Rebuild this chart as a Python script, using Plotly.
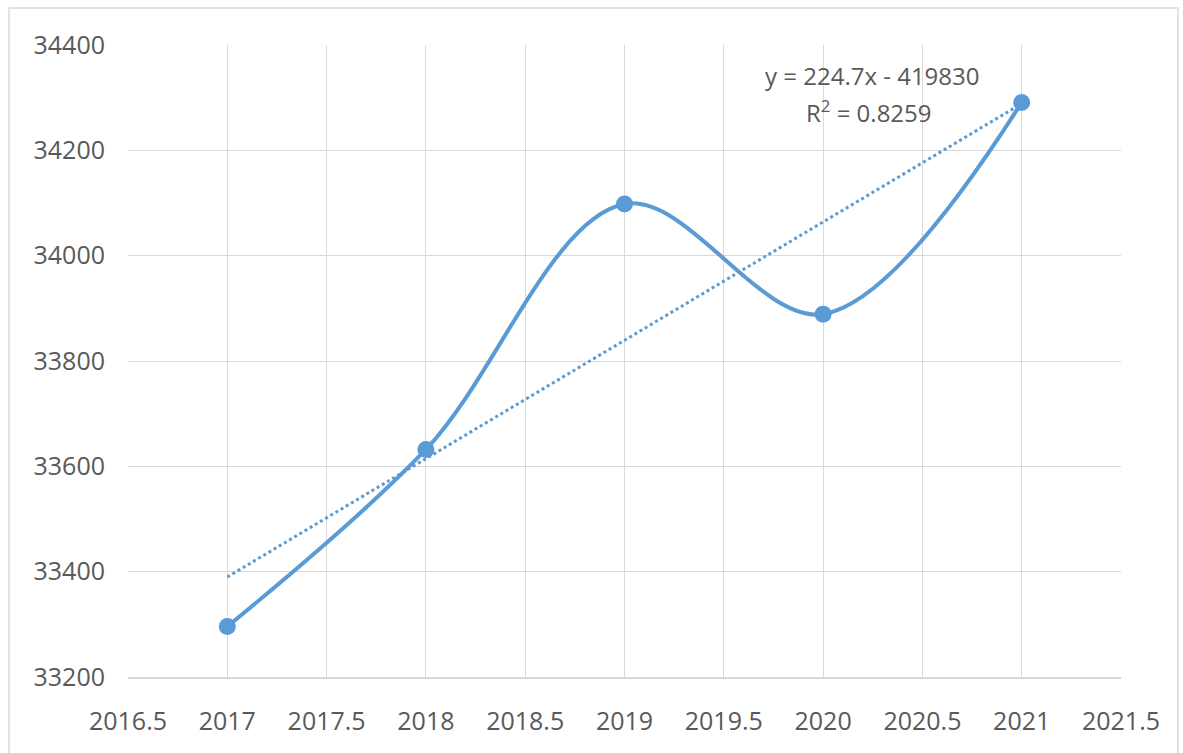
import numpy as np
import plotly.graph_objects as go

# Annual values
years = [2017, 2018, 2019, 2020, 2021]
values = [33296, 33632, 34098, 33889, 34291]

# Linear trend (as stated on the chart)
slope = 224.7
intercept = -419830
r_squared = 0.8259

x_ticks = [2016.5, 2017, 2017.5, 2018, 2018.5, 2019, 2019.5, 2020, 2020.5, 2021, 2021.5]
x_tick_text = ["2016.5", "2017", "2017.5", "2018", "2018.5", "2019", "2019.5", "2020", "2020.5", "2021", "2021.5"]
y_ticks = [33200, 33400, 33600, 33800, 34000, 34200, 34400]
y_tick_text = [str(v) for v in y_ticks]

BLUE = "#5B9BD5"
GRID = "#D9D9D9"
TEXT = "#595959"
FONT = "Open Sans"

trend_x = np.array([years[0], years[-1]], dtype=float)
trend_y = slope * trend_x + intercept

fig = go.Figure()

fig.add_trace(go.Scatter(
    x=trend_x, y=trend_y, mode="lines",
    line=dict(color=BLUE, width=3, dash="dot"),
    hoverinfo="skip", showlegend=False,
))

fig.add_trace(go.Scatter(
    x=years, y=values, mode="lines+markers",
    line=dict(color=BLUE, width=4, shape="spline", smoothing=1.0),
    marker=dict(color=BLUE, size=17),
    showlegend=False,
))

fig.add_annotation(
    x=2020.25, y=34342, xref="x", yref="y",
    text=f"y = {slope}x - {abs(intercept)}",
    showarrow=False, font=dict(family=FONT, size=24, color=TEXT),
)
fig.add_annotation(
    x=2020.23, y=34273, xref="x", yref="y",
    text=f"R<sup>2</sup> = {r_squared}",
    showarrow=False, font=dict(family=FONT, size=24, color=TEXT),
)

# Outer chart frame
fig.add_shape(
    type="rect", xref="paper", yref="paper",
    x0=-0.1198, x1=1.0574, y0=-0.14, y1=1.0585,
    line=dict(color=GRID, width=1.5), layer="below",
)

fig.update_xaxes(
    range=[2016.5, 2021.5], tickvals=x_ticks, ticktext=x_tick_text,
    showgrid=True, gridcolor=GRID, gridwidth=1.2,
    showline=True, linecolor=GRID, linewidth=1.5, mirror=False,
    zeroline=False, ticks="", ticklabelstandoff=21,
    tickfont=dict(family=FONT, size=25, color=TEXT),
)
fig.update_yaxes(
    range=[33200, 34400], tickvals=y_ticks, ticktext=y_tick_text,
    showgrid=True, gridcolor=GRID, gridwidth=1.2,
    showline=False, zeroline=False, ticks="", ticklabelstandoff=22,
    tickfont=dict(family=FONT, size=25, color=TEXT),
)

fig.update_layout(
    width=1183, height=753,
    margin=dict(l=128, r=62, t=45, b=76),
    paper_bgcolor="white", plot_bgcolor="white",
    showlegend=False,
)

fig.write_html("out.html")
